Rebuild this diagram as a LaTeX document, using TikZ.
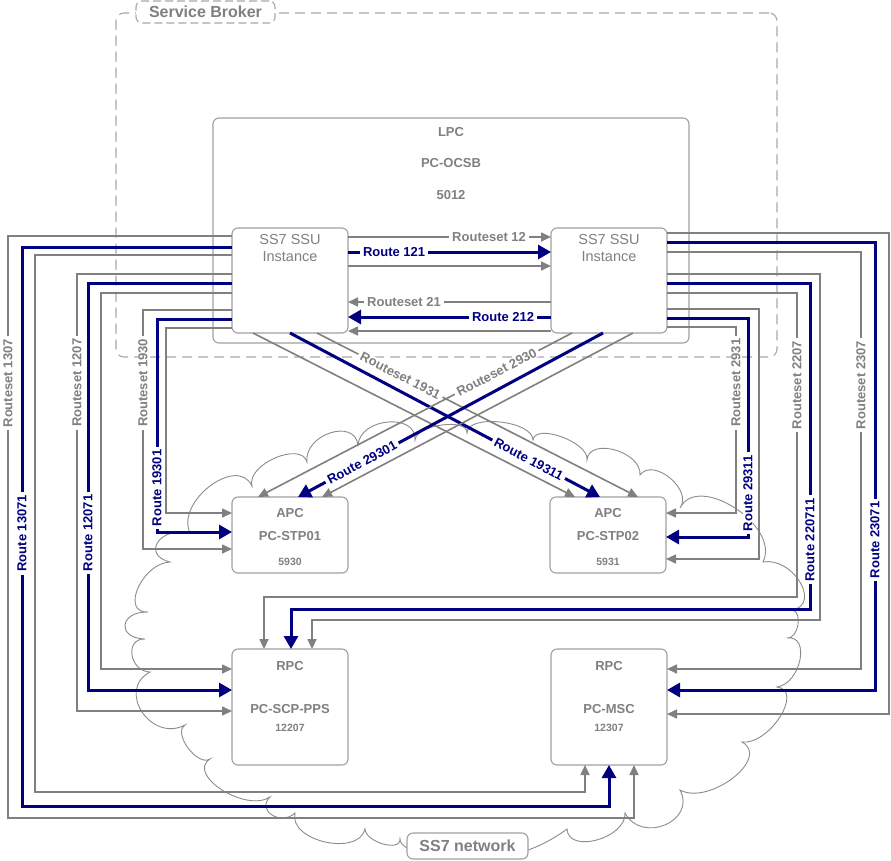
\documentclass[tikz,border=0pt]{standalone}
\usepackage{fontspec}
\setmainfont{Liberation Sans}
\usetikzlibrary{arrows.meta,calc}
\definecolor{lg}{HTML}{808080}
\definecolor{bx}{HTML}{A0A0A0}
\definecolor{nv}{HTML}{000080}
\definecolor{cl}{HTML}{8C8C8C}
\definecolor{sbd}{HTML}{A8A8A8}
\newcommand\lblfont{\fontsize{13}{15}\selectfont\bfseries}
\newcommand\boxfont{\fontsize{13}{15}\selectfont\bfseries}
\newcommand\smallboxfont{\fontsize{10.5}{12}\selectfont\bfseries}
\newcommand\ssufont{\fontsize{14.5}{17}\selectfont}
\newcommand\cbump[3]{.. controls ($0.3333*(#1)+1.3333*(#3)-0.6667*(#2)$) and ($0.3333*(#2)+1.3333*(#3)-0.6667*(#1)$) .. (#2)}
\tikzset{
  box/.style={draw=bx, line width=1.1pt, rounded corners=6pt, fill=white, outer sep=0pt, inner sep=0pt},
  gl/.style={draw=lg, line width=1.6pt, -{Triangle[length=10pt,width=9pt]}},
  bl/.style={draw=nv, line width=3pt, -{Triangle[length=13pt,width=14pt]}},
  lab/.style={fill=white, font=\lblfont, inner xsep=3pt, inner ysep=0.6pt},
  hl/.style={lab, text=lg},
  hlb/.style={lab, text=nv},
  vl/.style={hl, rotate=90},
  vlb/.style={hlb, rotate=90},
  dl/.style={hl, sloped},
  dlb/.style={hlb, sloped},
  btxt/.style={text=lg, font=\boxfont, inner sep=0pt},
  stxt/.style={text=lg, font=\smallboxfont, inner sep=0pt},
  cloudline/.style={draw=cl, line width=0.9pt}
}
\begin{document}
\begin{tikzpicture}[x=1pt,y=-1pt]
\useasboundingbox (0,0) rectangle (891,860);
\fill[white] (0,0) rectangle (891,860);

% cloud
\draw[cloudline] (407,848) .. controls (402,845) and (400,842) .. (400,839)
 \cbump{400,839}{365,829}{383,844}
 \cbump{365,829}{295,813}{325,842}
 \cbump{295,813}{270,797}{272,815}
 \cbump{270,797}{210,759}{222,790}
 \cbump{210,759}{185,725}{188,748}
 \cbump{185,725}{150,672}{142,712}
 \cbump{150,672}{145,639}{132,655}
 \cbump{145,639}{148,612}{125,625}
 \cbump{148,612}{170,562}{138,588}
 \cbump{170,562}{190,533}{158,542}
 \cbump{190,533}{252,486}{210,486}
 \cbump{252,486}{307,462}{275,458}
 \cbump{307,462}{358,445}{330,433}
 \cbump{358,445}{415,440}{388,422}
 \cbump{415,440}{467,433}{442,425}
 \cbump{467,433}{533,440}{500,422}
 \cbump{533,440}{587,460}{562,437}
 \cbump{587,460}{640,475}{615,450}
 \cbump{640,475}{680,508}{670,478}
 \cbump{680,508}{763,562}{735,508}
 \cbump{763,562}{792,610}{800,582}
 \cbump{792,610}{787,638}{798,625}
 \cbump{787,638}{777,687}{800,660}
 \cbump{777,687}{742,742}{780,717}
 \cbump{742,742}{680,790}{733,778}
 \cbump{680,790}{625,813}{665,825}
 \cbump{625,813}{567,829}{597,840}
 .. controls (555,838) and (540,846) .. (528,850);

% containers
\node[draw=sbd, line width=1.1pt, dash pattern=on 10pt off 6pt, rounded corners=8pt, minimum width=661pt, minimum height=344pt, inner sep=0pt] (sb) at (446.5,185) {};
\node[draw=sbd, line width=1.1pt, dash pattern=on 8pt off 4pt, rounded corners=6pt, fill=white, minimum width=139pt, minimum height=22pt, inner sep=0pt, text=lg, font=\fontsize{16}{18}\selectfont\bfseries] (sbl) at (205.5,12) {Service Broker};
\node[box, minimum width=476pt, minimum height=225pt] (lpc) at (451,230.5) {};
\node[btxt] (lpc1) at (451,132) {LPC};
\node[btxt] (lpc2) at (451,163) {PC-OCSB};
\node[btxt] (lpc3) at (451,195) {5012};

% boxes
\node[box, minimum width=116pt, minimum height=105pt] (ssuA) at (290,280.5) {};
\node[box, minimum width=116pt, minimum height=105pt] (ssuB) at (609,280.5) {};
\node[text=lg, font=\ssufont, align=center, inner sep=0pt] (ssuAt) at (290,248.5) {SS7 SSU\\Instance};
\node[text=lg, font=\ssufont, align=center, inner sep=0pt] (ssuBt) at (609,248.5) {SS7 SSU\\Instance};

\node[box, minimum width=116pt, minimum height=76pt] (stpA) at (290,535) {};
\node[btxt] (stpA1) at (290,513) {APC};
\node[btxt] (stpA2) at (290,536) {PC-STP01};
\node[stxt] (stpA3) at (290,562) {5930};
\node[box, minimum width=116pt, minimum height=76pt] (stpB) at (608,535) {};
\node[btxt] (stpB1) at (608,513) {APC};
\node[btxt] (stpB2) at (608,536) {PC-STP02};
\node[stxt] (stpB3) at (608,562) {5931};

\node[box, minimum width=116pt, minimum height=116pt] (scp) at (290,707) {};
\node[btxt] (scp1) at (290,666) {RPC};
\node[btxt] (scp2) at (290,709) {PC-SCP-PPS};
\node[stxt] (scp3) at (290,728) {12207};
\node[box, minimum width=116pt, minimum height=116pt] (msc) at (609,707) {};
\node[btxt] (msc1) at (609,666) {RPC};
\node[btxt] (msc2) at (609,709) {PC-MSC};
\node[stxt] (msc3) at (609,728) {12307};

\node[box, minimum width=121pt, minimum height=26pt, text=lg, font=\fontsize{16}{18}\selectfont\bfseries] (net) at (467.5,846) {SS7 network};

% left side connectors
\draw[gl] (ssuA.west |- 0,236) -- (8,236) -- node[pos=.253, vl]{Routeset 1307} (8,818) -- (634,818) -- (msc.south -| 634,0);
\draw[bl] (ssuA.west |- 0,247) -- (22,247) -- node[pos=.512, vlb]{Route 13071} (22,806) -- (609,806) -- (msc.south -| 609,0);
\draw[gl] (ssuA.west |- 0,255) -- (35,255) -- (35,792) -- (585,792) -- (msc.south -| 585,0);
\draw[gl] (ssuA.west |- 0,274) -- (77,274) -- node[pos=.249, vl]{Routeset 1207} (77,711) -- (scp.west |- 0,711);
\draw[bl] (ssuA.west |- 0,283) -- (88,283) -- node[pos=.614, vlb]{Route 12071} (88,690) -- (scp.west |- 0,690);
\draw[gl] (ssuA.west |- 0,293) -- (101,293) -- (101,669) -- (scp.west |- 0,669);
\draw[gl] (ssuA.west |- 0,310) -- (143,310) -- node[pos=.305, vl]{Routeset 1930} (143,549) -- (stpA.west |- 0,549);
\draw[bl] (ssuA.west |- 0,319) -- (157,319) -- node[pos=.793, vlb]{Route 19301} (157,532) -- (stpA.west |- 0,532);
\draw[gl] (ssuA.west |- 0,328) -- (166,328) -- (166,513) -- (stpA.west |- 0,513);

% right side connectors
\draw[gl] (ssuB.east |- 0,233) -- (889,233) -- (889,714) -- (msc.east |- 0,714);
\draw[bl] (ssuB.east |- 0,242) -- (875,242) -- node[pos=.665, vlb]{Route 23071} (875,690) -- (msc.east |- 0,690);
\draw[gl] (ssuB.east |- 0,252) -- (861,252) -- node[pos=.319, vl]{Routeset 2307} (861,669) -- (msc.east |- 0,669);
\draw[gl] (ssuB.east |- 0,274) -- (820,274) -- (820,620) -- (312,620) -- (scp.north -| 312,0);
\draw[bl] (ssuB.east |- 0,283) -- (810,283) -- node[pos=.788, vlb]{Route 220711} (810,609) -- (291,609) -- (scp.north -| 291,0);
\draw[gl] (ssuB.east |- 0,293) -- (797,293) -- node[pos=.303, vl]{Routeset 2207} (797,597) -- (264,597) -- (scp.north -| 264,0);
\draw[gl] (ssuB.east |- 0,309) -- (759,309) -- (759,559) -- (stpB.east |- 0,559);
\draw[bl] (ssuB.east |- 0,318) -- (748,318) -- node[pos=.80, vlb]{Route 29311} (748,537) -- (stpB.east |- 0,537);
\draw[gl] (ssuB.east |- 0,327) -- (736,327) -- node[pos=.30, vl]{Routeset 2931} (736,513) -- (stpB.east |- 0,513);

% between SSU instances
\draw[gl] (ssuA.east |- 0,237) -- node[pos=.695, hl]{Routeset 12} (ssuB.west |- 0,237);
\draw[bl] (ssuA.east |- 0,252) -- node[pos=.227, hlb]{Route 121} (ssuB.west |- 0,252);
\draw[gl] (ssuA.east |- 0,266) -- (ssuB.west |- 0,266);
\draw[gl] (ssuB.west |- 0,302) -- node[pos=.724, hl]{Routeset 21} (ssuA.east |- 0,302);
\draw[bl] (ssuB.west |- 0,317) -- node[pos=.236, hlb]{Route 212} (ssuA.east |- 0,317);
\draw[gl] (ssuB.west |- 0,331) -- (ssuA.east |- 0,331);

% diagonals
\draw[gl] (ssuA.south -| 253,0) -- (stpB.north -| 575,0);
\draw[bl] (ssuA.south -| 290,0) -- node[pos=.77, dlb]{Route 19311} (stpB.north -| 600,0);
\draw[gl] (ssuA.south -| 317,0) -- node[pos=.26, dl]{Routeset 1931} (stpB.north -| 638,0);
\draw[gl] (ssuB.south -| 572,0) -- node[pos=.24, dl]{Routeset 2930} (stpA.north -| 258,0);
\draw[bl] (ssuB.south -| 603,0) -- node[pos=.79, dlb]{Route 29301} (stpA.north -| 298,0);
\draw[gl] (ssuB.south -| 633,0) -- (stpA.north -| 322,0);
\end{tikzpicture}
\end{document}
